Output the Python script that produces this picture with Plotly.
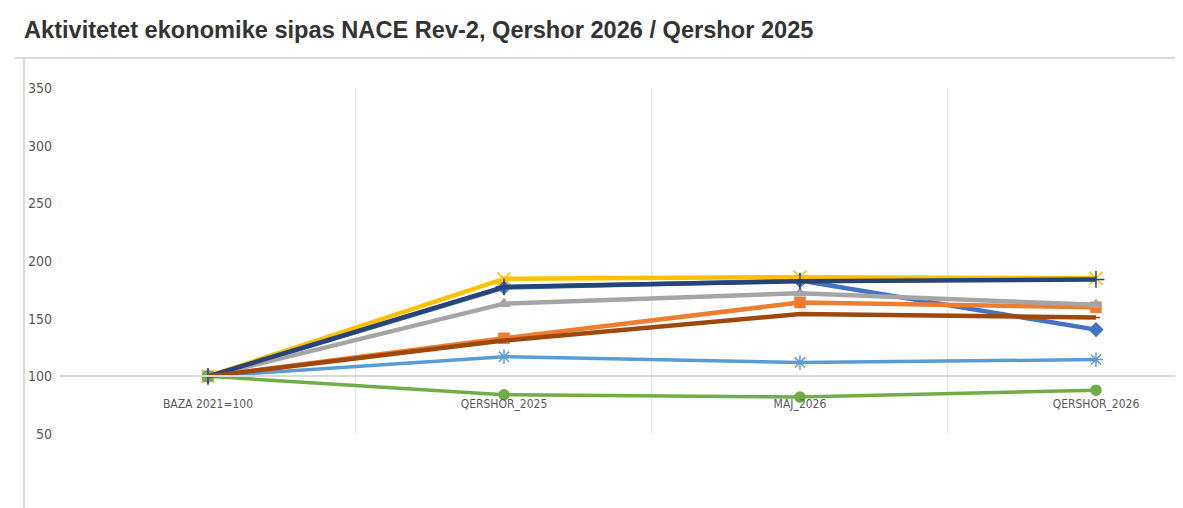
import plotly.graph_objects as go

# Categories (periods) and index values, base 2021 = 100
periods = ["BAZA 2021=100", "QERSHOR_2025", "MAJ_2026", "QERSHOR_2026"]

seria_1 = [100, 177, 183, 140.5]   # blue, diamond
seria_2 = [100, 133, 164, 160]     # orange, square
seria_3 = [100, 163, 172, 162]     # gray, triangle
seria_4 = [100, 184.5, 186, 185]   # gold, x
seria_5 = [100, 117, 112, 114.5]   # light blue, star
seria_6 = [100, 84, 82, 88]        # green, circle
seria_7 = [100, 177.5, 182.5, 184] # dark blue, plus
seria_8 = [100, 131, 154, 151]     # brown

y_ticks = [50, 100, 150, 200, 250, 300, 350]

series = [
    ("Seria 1", seria_1, "#4472C4", "diamond", 4.5, 10),
    ("Seria 2", seria_2, "#ED7D31", "square", 4.5, 10),
    ("Seria 3", seria_3, "#A5A5A5", "triangle-up", 4.5, 10),
    ("Seria 4", seria_4, "#FFC000", "x-thin-open", 4.5, 13),
    ("Seria 5", seria_5, "#5B9BD5", "asterisk-open", 3.5, 12),
    ("Seria 6", seria_6, "#70AD47", "circle", 3.5, 10),
    ("Seria 7", seria_7, "#264478", "cross-thin-open", 4.5, 12),
    ("Seria 8", seria_8, "#9E480E", "line-ew-open", 4.5, 6),
]

fig = go.Figure()

for name, vals, color, symbol, width, msize in series:
    fig.add_trace(go.Scatter(
        x=periods,
        y=vals,
        name=name,
        mode="lines+markers",
        line=dict(color=color, width=width),
        marker=dict(symbol=symbol, size=msize, color=color,
                    line=dict(color=color, width=1.5)),
    ))

narrow = "Liberation Sans Narrow, DejaVu Sans Condensed, Arial Narrow, sans-serif"

# page body adds 8px, so the figure is 8px smaller than the window
W, H = 1175, 500
L, T, B = 52, 80, 74
PW, PH = W - L, H - T - B

fig.update_layout(
    width=W,
    height=H,
    margin=dict(l=L, r=0, t=T, b=B),
    paper_bgcolor="white",
    plot_bgcolor="white",
    showlegend=False,
    title=dict(
        text="<b>Aktivitetet ekonomike sipas NACE Rev-2, Qershor 2026 / Qershor 2025</b>",
        x=16 / W, xanchor="left", y=1 - 22 / H, yanchor="middle",
        font=dict(family="Liberation Sans, Arial, sans-serif", size=23.6, color="#333333"),
    ),
    xaxis=dict(
        type="category",
        range=[-0.5, 3.294],
        tickson="boundaries",
        showgrid=True,
        gridcolor="#e3e3e3",
        gridwidth=1,
        showline=True,
        linecolor="#d9d9d9",
        linewidth=2,
        ticks="",
        anchor="free",
        position=(100 - 50) / (350 - 50),
        ticklabelstandoff=16,
        tickfont=dict(family=narrow, size=12, color="#595959"),
        zeroline=False,
    ),
    yaxis=dict(
        range=[50, 350],
        tickvals=y_ticks,
        showgrid=False,
        showline=False,
        zeroline=False,
        ticks="",
        ticklabelstandoff=7,
        tickfont=dict(family=narrow, size=14, color="#595959"),
    ),
    shapes=[
        # chart frame (top and left border)
        dict(type="line", xref="paper", yref="paper",
             x0=(7 - L) / PW, x1=1.0, y0=(H - B - 50) / PH, y1=(H - B - 50) / PH,
             line=dict(color="#d9d9d9", width=2)),
        dict(type="line", xref="paper", yref="paper",
             x0=(16 - L) / PW, x1=(16 - L) / PW, y0=-B / PH, y1=(H - B - 50) / PH,
             line=dict(color="#d9d9d9", width=2)),
    ],
)

fig.write_html("out.html")
